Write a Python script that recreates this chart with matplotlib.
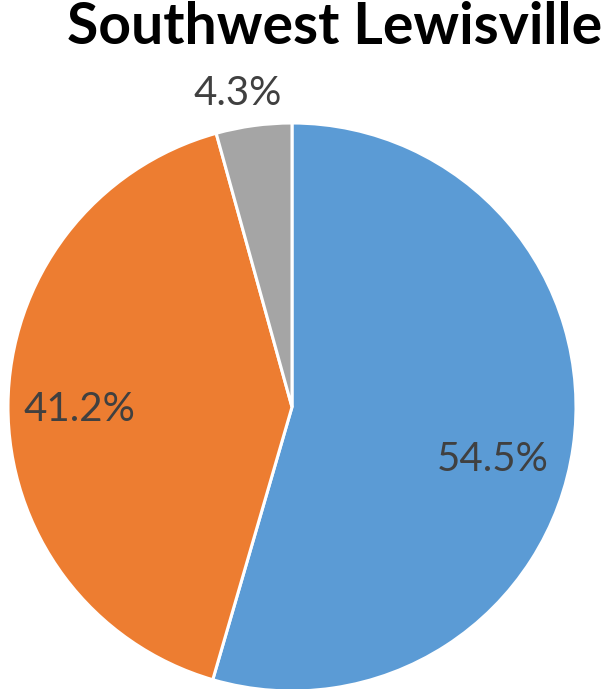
import numpy as np
import matplotlib
matplotlib.use("Agg")
import matplotlib.pyplot as plt

title = "Southwest Lewisville"
shares = [54.5, 41.2, 4.3]
colors = ["#5B9BD5", "#ED7D31", "#A5A5A5"]
# label placement: (angle in degrees, radius as fraction of pie radius)
label_pos = [(-14.8, 0.73), (180.8, 0.75), (99.9, 1.12)]

W, H, DPI = 613, 689, 100
fig = plt.figure(figsize=(W / DPI, H / DPI), dpi=DPI)

cx, cy, r = 292, 407, 284
ax = fig.add_axes([(cx - r) / W, (H - cy - r) / H, 2 * r / W, 2 * r / H])
ax.pie(shares, colors=colors, startangle=90, counterclock=False,
       radius=1.0, wedgeprops=dict(edgecolor="white", linewidth=2.2))
ax.set_xlim(-1, 1)
ax.set_ylim(-1, 1)
ax.set_aspect("equal")
ax.axis("off")

for val, (ang, rr) in zip(shares, label_pos):
    t = np.deg2rad(ang)
    ax.text(rr * np.cos(t), rr * np.sin(t), f"{val:.1f}%", ha="center",
            va="center", fontsize=29, family="Lato", color="#404040",
            clip_on=False)

fig.text(335 / W, 1 - 44 / H, title, ha="center", va="baseline",
         fontsize=41, fontweight="bold", family="Lato", color="black")

fig.savefig("out.png", dpi=DPI)
